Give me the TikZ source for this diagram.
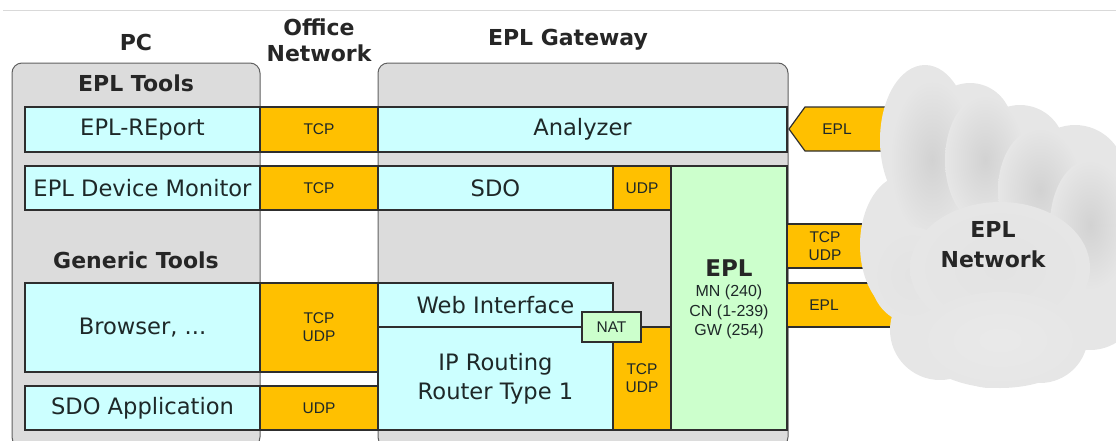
\documentclass[tikz,border=0pt]{standalone}
\usepackage{fontspec}
\setmainfont{DejaVu Sans}
\newfontfamily\arl{Liberation Sans}

\definecolor{cyanbox}{HTML}{CCFFFF}
\definecolor{gold}{HTML}{FFC000}
\definecolor{mint}{HTML}{CCFFCC}
\definecolor{panelgray}{HTML}{DCDCDC}
\definecolor{edge}{HTML}{2E2E2E}
\definecolor{ink}{HTML}{1E2828}
\definecolor{cloudlight}{HTML}{E6E6E6}
\definecolor{clouddark}{HTML}{D2D2D2}

% rectangular block given by its corner pixels: name, x1, y1, x2, y2, style, text
\newcommand\blk[7]{%
  \pgfmathsetmacro\bw{#4-#2}\pgfmathsetmacro\bh{#5-#3}%
  \node[#6, anchor=north west, minimum width=\bw pt, minimum height=\bh pt] (#1) at (#2,#3) {#7};}

\tikzset{
  tool/.style={draw=edge, line width=1.2pt, fill=cyanbox, inner sep=0pt, outer sep=0pt,
    font=\fontsize{22.6}{29}\selectfont, text=ink, align=center},
  proto/.style={draw=edge, line width=1.2pt, fill=gold, inner sep=0pt, outer sep=0pt,
    font=\arl\fontsize{15.5}{18}\selectfont, text=ink, align=center},
  stackbox/.style={draw=edge, line width=1.2pt, fill=mint, inner sep=0pt, outer sep=0pt,
    font=\arl\fontsize{15.5}{18}\selectfont, text=ink, align=center},
  panel/.style={draw=gray!75!black, fill=panelgray, rounded corners=10pt, line width=1pt,
    inner sep=0pt, outer sep=0pt},
  head/.style={font=\bfseries\fontsize{22}{26}\selectfont, text=black!85, align=center},
  small/.style={font=\arl\fontsize{16}{19.3}\selectfont, text=ink, align=center},
  lobe/.style={inner color=clouddark, outer color=cloudlight},
}

\begin{document}
\begin{tikzpicture}[x=1pt,y=-1pt]
\useasboundingbox (0,0) rectangle (1116,440);
\clip (0,0) rectangle (1116,440);

% thin rule along the top edge
\draw[gray!30, line width=0.8pt] (3,10) -- (1116,10);

% column headings
\node[head] (hpc) at (136,42) {PC};
\node[head] (hnet) at (319,40) {Office\\Network};
\node[head] (hgw) at (568,40) {EPL Gateway};

% container panels
\blk{pc}{12}{63}{260}{447}{panel}{}
\blk{gw}{378}{63}{788}{447}{panel}{}

\node[head] (tepl) at (136,83) {EPL Tools};
\node[head] (tgen) at (136,260) {Generic Tools};

% PC side tools
\blk{rep}{25}{107}{260}{152}{tool}{EPL-REport}
\blk{mon}{25}{166}{260}{210}{tool}{EPL Device Monitor}
\blk{brw}{25}{283}{260}{372}{tool}{Browser, ...}
\blk{sdoa}{25}{386}{260}{430}{tool}{SDO Application}

% office network protocols
\blk{tcpa}{260}{107}{378}{152}{proto}{TCP}
\blk{tcpb}{260}{166}{378}{210}{proto}{TCP}
\blk{tcpc}{260}{283}{378}{372}{proto}{TCP\\UDP}
\blk{udpa}{260}{386}{378}{430}{proto}{UDP}

% gateway internals
\blk{ana}{378}{107}{787}{152}{tool}{Analyzer}
\blk{sdo}{378}{166}{613}{210}{tool}{SDO}
\blk{udpb}{613}{166}{671}{210}{proto}{UDP}
\blk{web}{378}{283}{613}{327}{tool}{Web Interface}
\blk{iprt}{378}{327}{613}{430}{tool}{IP Routing\\Router Type 1}
\blk{tcpd}{613}{327}{671}{430}{proto}{TCP\\UDP}
\blk{stack}{671}{166}{787}{430}{stackbox}{}
\blk{nat}{582}{312}{641}{342}{stackbox}{NAT}

\node[font=\bfseries\fontsize{23}{26}\selectfont, text=black!85] (stt) at (729,268) {EPL};
\node[small] (ids) at (729,312) {MN (240)\\CN (1-239)\\GW (254)};

% links towards the field network
\draw[draw=edge, line width=1.2pt, fill=gold]
  (789,129) -- (805,107) -- (910,107) -- (910,151) -- (805,151) -- cycle;
\node[proto, draw=none, fill=none] (lka) at (837,129) {EPL};
\blk{lkb}{787}{224}{905}{268}{proto}{}
\node[proto, draw=none, fill=none] (lkbt) at (825,246) {TCP\\UDP};
\blk{lkc}{787}{283}{910}{327}{proto}{}
\node[proto, draw=none, fill=none] (lkct) at (824,305) {EPL};

% the field network cloud: silhouette first, then soft shaded puffs
\fill[cloudlight]
  (925,140) ellipse [x radius=45, y radius=75]
  (905,245) ellipse [x radius=45, y radius=70]
  (940,330) circle (50)
  (990,340) circle (48)
  (1040,335) circle (48)
  (1090,300) circle (50)
  (1100,230) circle (55)
  (1075,175) circle (50)
  (1020,150) circle (45)
  (970,125) circle (42)
  (995,240) ellipse [x radius=115, y radius=110];
\shade[lobe] (932,160) ellipse [x radius=42, y radius=80];
\shade[lobe] (985,160) ellipse [x radius=40, y radius=65];
\shade[lobe] (1040,190) ellipse [x radius=42, y radius=62];
\shade[lobe] (1090,225) ellipse [x radius=40, y radius=65];
\shade[inner color=gray!22, outer color=cloudlight] (912,275) ellipse [x radius=42, y radius=48];
\shade[inner color=gray!22, outer color=cloudlight] (1000,268) ellipse [x radius=90, y radius=66];
\shade[inner color=gray!17, outer color=cloudlight] (1000,340) ellipse [x radius=85, y radius=48];

\node[font=\bfseries\fontsize{22}{30}\selectfont, text=black!85, align=center] (net) at (993,245) {EPL\\Network};
\end{tikzpicture}
\end{document}
